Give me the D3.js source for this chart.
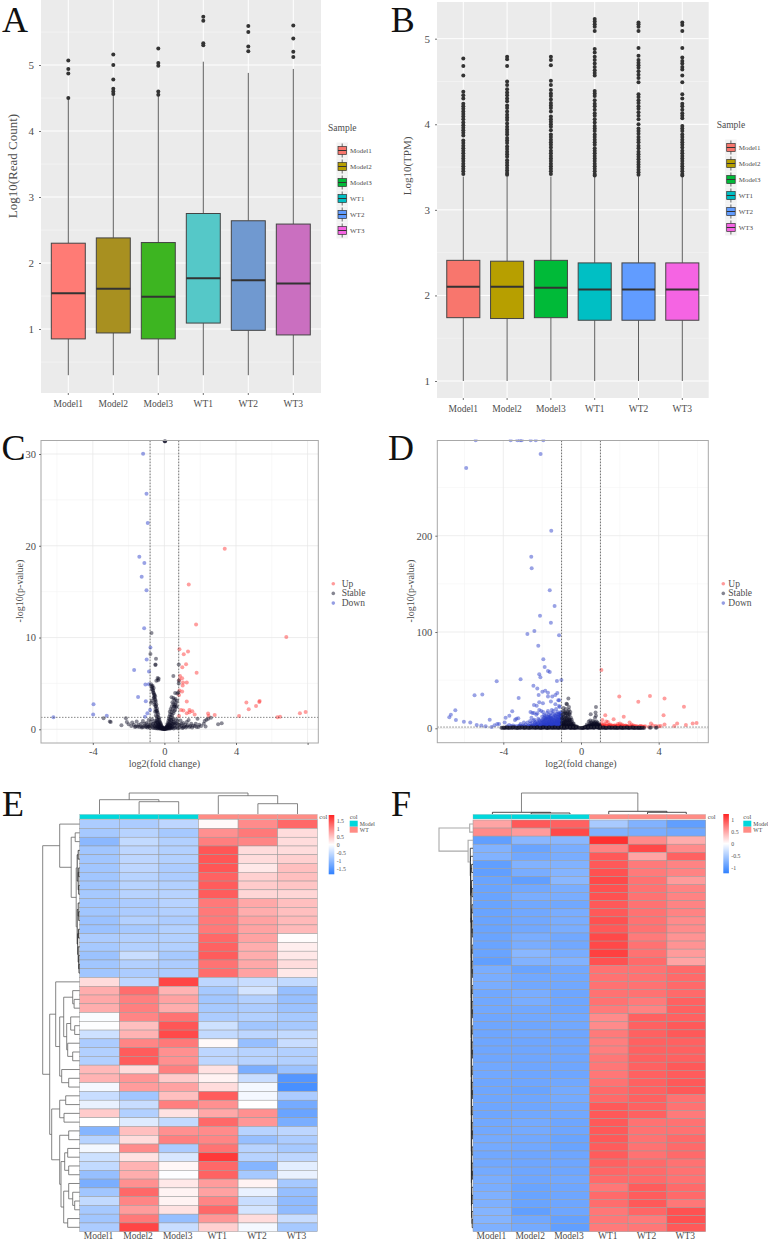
<!DOCTYPE html>
<html>
<head>
<meta charset="utf-8">
<script src="https://cdn.jsdelivr.net/npm/d3@7"></script>
<style>
body { margin: 0; background: #fff; }
svg { display: block; }
text { font-family: "Liberation Serif", serif; fill: #4d4d4d; }
.letter { fill: #111; font-size: 36px; }
</style>
</head>
<body>
<svg id="fig" width="768" height="1240"></svg>
<script>
const samples = ["Model1", "Model2", "Model3", "WT1", "WT2", "WT3"];
const legendColors = ["#F8766D", "#B79F00", "#00BA38", "#00BFC4", "#619CFF", "#F564E3"];
const fadedColors = ["#FF7B75", "#A89020", "#3DB521", "#55C8C8", "#7099D0", "#CA6FC0"];

// A - read count boxes
const aQ1 = [0.85, 0.94, 0.85, 1.09, 0.98, 0.91];
const aMedian = [1.54, 1.61, 1.49, 1.77, 1.74, 1.69];
const aQ3 = [2.30, 2.38, 2.31, 2.75, 2.64, 2.59];
const aLow = [0.30, 0.30, 0.30, 0.30, 0.30, 0.30];
const aHigh = [4.50, 4.55, 4.54, 5.05, 4.88, 4.94];
const aOutliers = [
	[5.07, 4.94, 4.87, 4.50],
	[5.16, 5.0, 4.78, 4.64, 4.6, 4.56],
	[5.25, 5.03, 4.99, 4.6, 4.55],
	[5.73, 5.67, 5.33, 5.30],
	[5.59, 5.5, 5.28, 5.21],
	[5.6, 5.4, 5.2, 5.12]
];

// B - TPM boxes
const bQ1 = [1.74, 1.73, 1.74, 1.71, 1.71, 1.71];
const bMedian = [2.10, 2.10, 2.09, 2.07, 2.07, 2.07];
const bQ3 = [2.41, 2.40, 2.41, 2.38, 2.38, 2.38];
const bLow = [1, 1, 1, 1, 1, 1];
const bHigh = [3.39, 3.39, 3.39, 3.39, 3.39, 3.39];
const bOutliers = [
	[4.77,4.68,4.57,4.38,4.34,4.30,4.24,4.21,4.18,4.15,4.12,4.09,4.06,4.02,3.99,3.96,3.93,3.90,3.87,3.81,3.78,3.75,3.72,3.69,3.66,3.63,3.60,3.57,3.54,3.51,3.48,3.45,3.42],
	[4.79,4.76,4.68,4.5,4.46,4.41,4.37,4.34,4.30,4.27,4.22,4.19,4.15,4.11,4.08,4.05,4.01,3.97,3.94,3.91,3.88,3.84,3.81,3.78,3.74,3.71,3.68,3.65,3.62,3.58,3.55,3.52,3.49,3.46,3.43,3.41],
	[4.79,4.75,4.69,4.51,4.46,4.40,4.36,4.33,4.29,4.25,4.22,4.19,4.15,4.09,4.06,4.03,4.0,3.97,3.93,3.88,3.85,3.82,3.79,3.76,3.73,3.69,3.66,3.63,3.6,3.57,3.54,3.51,3.48,3.45,3.42],
	[5.23,5.2,5.17,5.14,5.09,4.88,4.84,4.79,4.75,4.71,4.67,4.63,4.6,4.57,4.39,4.36,4.33,4.28,4.24,4.21,4.17,4.13,4.1,4.06,4.02,3.98,3.95,3.92,3.88,3.85,3.82,3.79,3.76,3.72,3.69,3.66,3.63,3.6,3.57,3.54,3.51,3.48,3.45,3.42,3.4],
	[5.19,5.17,5.14,5.09,4.89,4.8,4.75,4.72,4.69,4.66,4.62,4.58,4.54,4.49,4.35,4.32,4.28,4.25,4.21,4.18,4.14,4.1,4.06,4.0,3.95,3.92,3.89,3.85,3.82,3.79,3.75,3.72,3.68,3.65,3.62,3.59,3.56,3.53,3.5,3.47,3.44,3.41],
	[5.19,5.16,5.09,4.89,4.78,4.74,4.71,4.67,4.64,4.57,4.49,4.35,4.3,4.24,4.21,4.17,4.13,4.1,4.07,3.98,3.95,3.92,3.88,3.85,3.82,3.79,3.76,3.73,3.69,3.66,3.63,3.6,3.57,3.54,3.51,3.48,3.45,3.42,3.4]
];

// C - volcano points [log2fc, -log10p]
const cUp = [[3.37,19.67],[1.36,15.78],[1.77,11.42],[6.81,10.07],[.84,8.73],[1.32,8.47],[1.08,8.18],[1.21,7.09],[1.0,6.76],[1.8,6.15],[.87,5.82],[.99,5.56],[.84,5.38],[1.25,5.09],[1.04,5.09],[1.02,4.76],[.84,4.22],[.99,4.11],[.82,3.75],[1.25,3.02],[5.32,3.09],[5.3,2.98],[4.58,2.91],[5.12,2.55],[4.71,2.18],[.93,2.11],[1.06,2.04],[1.4,2.11],[1.56,1.96],[1.25,1.75],[1.4,1.85],[1.69,1.6],[2.44,1.71],[2.47,1.45],[2.81,1.56],[4.17,1.45],[7.57,1.75],[7.89,1.89],[6.31,1.31],[6.46,1.38],[.82,1.45]];
const cDown = [[-1.19,30.04],[-1.0,25.67],[-.93,22.47],[-1.40,18.8],[-1.12,18.11],[-1.27,16.62],[-1.0,15.16],[-1.13,11.02],[-.78,8.91],[-.99,7.6],[-.86,6.29],[-1.69,6.47],[-1.06,4.87],[-.87,4.91],[-1.47,3.53],[-1.04,3.05],[-.95,1.75],[-1.08,1.38],[-.8,2.1],[-3.96,2.73],[-3.98,1.6],[-3.22,1.49],[-6.2,1.31]];
const cStable = [[.03,31.4],[.03,31.4],[.03,31.4],[-.72,10.5],[-.78,8.2],[-.47,7.7],[-.5,7.05],[-.5,7.0],[-.38,5.6],[-.32,5.5],[-.45,5.3],[-.35,5.35],
	[-.75,4.9],[-.72,4.7],[-.68,4.6],[-.7,4.4],[-.65,4.3],[-.6,4.5],[-.62,4.0],[-.58,3.8],[-.55,3.75],[-.6,3.4],[-.52,3.6],[-.5,3.2],[-.55,2.95],[-.48,3.0],[-.7,3.1],[-.75,2.9],[-.45,2.7],[-.47,2.5],[-.5,2.2],[-.42,2.3],[-.4,2.0],[-.45,1.9],[-.38,1.8],[-.35,1.6],[-.4,1.4],[-.33,1.3],[-.3,1.2],[-.37,1.05],[-.28,1.0],[-.3,.85],[-.25,.8],[-.22,.7],[-.27,.6],[-.2,.55],[-.18,.45],[-.22,.38],[-.15,.3],[-.12,.22],[-.17,.18],[-.1,.12],[-.06,.08],[-.03,.04],[0,.02],
	[.5,5.8],[.8,7.05],[.8,5.3],[.8,5.0],[.78,4.0],[.72,3.9],[.6,3.95],[.4,3.5],[.5,3.4],[.55,3.2],[.65,2.9],[.7,3.1],[.45,2.95],[.5,2.75],[.6,2.7],[.42,2.5],[.55,2.45],[.65,2.4],[.35,2.2],[.45,2.15],[.55,2.0],[.3,1.9],[.4,1.85],[.32,1.6],[.42,1.55],[.28,1.4],[.35,1.3],[.25,1.15],[.3,1.05],[.4,1.0],[.22,.9],[.28,.8],[.35,.7],[.18,.65],[.24,.55],[.15,.45],[.2,.35],[.12,.28],[.16,.2],[.08,.14],[.05,.07],[.02,.03],
	[-3.4,1.2],[-3.0,.8],[-3.05,.85],[-2.4,.45],[-2.15,1.2],[-2.1,.8],[-2.0,.55],[-1.85,.35],[-1.8,.75],[-1.65,.25],[-1.55,.85],[-1.5,.3],[-1.4,.25],[-1.3,.6],[-1.25,.2],[-1.2,.9],[-1.1,.4],[-1.05,.25],[-1.0,.7],[-.95,.2],[-.9,.55],[-.88,1.0],[-.85,.3],[-.8,.15],[-.75,.8],[-.72,.35],[-.7,1.1],[-.65,.2],[-.62,.6],[-.6,.15],[-.55,.9],[-.52,.3],[-.5,.12],[-.48,.55],[-.45,.18],[-.42,.75],[-.4,.1],[-.38,.35],[-.35,.15],[-.33,.5],[-.3,.08],[-.27,.25],[-.25,.1],[-.22,.15],[-.18,.06],[-.14,.1],[-.1,.04],
	[.1,.05],[.14,.1],[.18,.07],[.22,.16],[.26,.1],[.3,.22],[.33,.08],[.36,.4],[.4,.14],[.43,.6],[.46,.2],[.5,.85],[.52,.1],[.55,.35],[.6,.18],[.63,.65],[.66,1.1],[.7,.25],[.72,.9],[.75,.12],[.78,.5],[.85,.2],[.9,.95],[.95,.35],[1.0,.15],[1.05,.7],[1.1,.3],[1.2,.2],[1.25,.8],[1.3,.45],[1.35,1.0],[1.4,.25],[1.5,.6],[1.55,.2],[1.7,.35],[1.8,.25],[1.85,1.15],[1.95,.5],[2.05,.35],[2.2,.6],[2.25,.9],[2.3,.3],[2.35,1.05],[2.45,1.15],[2.6,1.25],[3.0,.55],[3.2,.65]];
const cStableDense = [[-.66,4.75],[-.63,4.2],[-.6,3.95],[-.57,3.5],[-.53,3.3],[-.56,2.7],[-.5,2.55],[-.52,1.9],[-.44,2.05],[-.48,1.5],[-.42,1.15],[-.44,.9],[-.38,.75],[-.35,.55],[-.3,.45],[-.3,.25],[-.25,.4],[-.2,.25],[-.2,.12],[-.15,.15],[-.12,.08],[-.08,.15],[-.05,.1],[0,.08],[.04,.12],[.08,.08],[.1,.2],[.14,.25],[.18,.15],[.2,.5],[.24,.3],[.28,.18],[.28,.55],[.33,.4],[.35,.2],[.38,.95],[.4,.55],[.44,.3],[.44,1.3],[.48,.6],[.5,1.75],[.5,1.1],[.55,2.5],[.55,.75],[.6,2.1],[.6,.5],[.62,3.3],[.68,2.5],[.7,.65],[-.8,.45],[-.9,.3],[-1.0,.3],[-1.1,.6],[-1.2,.25],[-1.3,.3],[-1.45,.5],[-1.6,.3],[-1.7,.5],[.85,.5],[.95,.6],[1.05,.2],[1.15,.5],[1.25,.3],[1.45,.35],[1.6,.4],[1.75,.6],[1.9,.25],[-.65,.55],[-.55,.35],[-.5,.75],[-.43,.4],[-.36,.25]];

// D - volcano points
const dUp = [[1.05,60.5],[1.97,33],[3.55,33.5],[4.3,31],[2.95,27.5],[5.3,22.5],[4.25,13.5],[1.25,13.5],[2.2,12],[1.68,9.5],[1.1,8.5],[1.3,7],[1.38,6.5],[1.5,4],[1.9,4.5],[2.0,5],[2.1,4],[2.5,6],[2.6,4],[2.3,3],[2.7,3],[2.85,2.5],[3.1,2],[3.3,2],[3.6,5],[3.7,3],[3.85,2.5],[4.0,2],[4.1,2.5],[4.3,4],[4.8,2.5],[4.95,5],[5.4,3.5],[5.75,5],[5.95,5.5],[1.05,5],[1.12,3],[1.2,4.5],[1.25,2.5],[1.32,3],[1.4,2],[1.45,3.5],[1.55,2.2],[1.6,3],[1.7,2.2],[1.78,2.5],[1.85,2],[2.15,2.2],[2.25,2],[2.4,2.5],[2.55,2],[2.75,2],[1.02,2],[1.08,1.8],[1.15,1.8],[1.22,1.6],[1.3,1.6],[1.38,1.5],[1.48,1.5],[1.58,1.5],[1.68,1.5],[1.8,1.5],[1.95,1.5],[2.05,1.5],[2.2,1.5],[2.35,1.5],[2.5,1.5],[2.65,1.5],[2.9,1.5],[3.2,1.5],[3.5,1.5],
	[1.04,3.5],[1.07,2.6],[1.1,2.2],[1.14,2.6],[1.18,2.2],[1.22,3.5],[1.27,2.1],[1.35,2.4],[1.42,2.8],[1.5,2.4],[1.5,1.8],[1.62,2],[1.65,2.6],[1.72,1.8],[1.75,3.2],[1.82,1.8],[1.88,2.6],[1.92,2],[1.98,2.8],[2.02,2],[2.08,2.6],[2.12,1.8],[2.18,3],[2.28,2.4],[2.32,1.8],[2.38,2],[2.45,1.8],[2.6,2.4],[2.68,1.8],[2.8,1.8],[3.0,1.8],[3.05,2.4],[3.15,1.8],[3.25,1.6]];
const dDown = [[-5.42,299],[-3.62,299],[-3.28,299],[-3.14,299],[-3.05,299],[-2.59,299],[-2.33,299],[-1.94,299],[-2.08,284.8],[-5.91,270.2],[-1.53,205.2],[-2.56,178.2],[-2.54,166.1],[-1.61,143.3],[-1.36,127],[-2.11,117],[-1.55,109.7],[-2.4,101],[-2.76,97.9],[-1.13,96.5],[-2.2,85.8],[-1.94,71.6],[-1.87,63.7],[-1.7,59.5],[-1.61,58.5],[-2.15,56],[-2.09,53],[-3.11,50.9],[-4.34,48.8],[-1.24,49.1],[-1.01,50.2],[-2.45,44.3],[-2.25,41.2],[-5.48,34.3],[-5.08,35],[-3.21,31.5],[-1.99,38],[-1.84,39],[-1.7,37],[-2.18,34.6],[-1.7,32.9],[-1.48,32.9],[-1.32,34.6],[-1.22,36.7],[-1.17,29],[-1.12,29],[-2.15,27],[-1.96,26],[-1.55,27.7],[-1.32,24.9],[-2.42,24.2],[-2.28,23.5],[-1.13,23.2],
	[-6.47,18.7],[-6.7,14.2],[-6.78,11.4],[-6.44,8.7],[-6.03,6.9],[-5.7,5.9],[-5.37,3.5],[-5.13,2.8],[-4.91,2.1],[-4.7,9],[-4.6,1.4],[-4.45,3.1],[-4.31,4.5],[-4.22,4.5],[-3.93,5.9],[-3.88,11],[-3.69,13.1],[-3.54,17.6],[-3.4,8.7],[-3.33,10],[-3.23,10.4],[-3.11,4.5],[-2.94,5.9],
	[-2.6,17],[-2.5,16],[-2.42,16],[-2.3,14],[-2.25,15.5],[-2.15,19],[-2.05,18],[-1.95,17],[-1.9,14],[-1.85,13],[-1.75,16],[-1.7,18],[-1.65,14],[-1.6,12],[-1.55,16],[-1.5,19],[-1.42,18],[-1.35,14],[-1.28,20],[-1.22,17],[-1.15,15],[-1.1,22],[-1.06,13],[-1.03,17],
	[-2.55,11],[-2.4,9],[-2.35,6],[-2.2,10],[-2.12,7],[-2.0,12],[-1.95,8],[-1.88,6],[-1.8,10],[-1.72,7],[-1.68,5],[-1.6,9],[-1.55,6.5],[-1.5,11],[-1.45,5],[-1.4,8.5],[-1.35,6],[-1.3,10.5],[-1.25,7],[-1.2,5],[-1.15,9],[-1.12,6],[-1.08,11],[-1.04,7.5],[-1.02,4],
	[-2.85,4],[-2.7,3],[-2.6,5],[-2.5,3],[-2.4,4],[-2.3,2.5],[-2.2,3.5],[-2.12,2.2],[-2.05,4.5],[-1.98,2.6],[-1.9,3.6],[-1.82,2.3],[-1.75,3],[-1.7,2],[-1.62,3.5],[-1.56,2.2],[-1.5,3],[-1.44,2],[-1.38,3.5],[-1.32,2.2],[-1.26,3.2],[-1.2,2],[-1.14,3.5],[-1.1,2.2],[-1.05,3],[-1.02,2],
	[-3.8,2],[-3.6,2.5],[-3.4,2],[-3.2,2.5],[-3.05,2],[-2.9,2],[-2.78,2],[-2.64,1.8],[-2.55,2],[-2.45,1.8],[-2.35,1.7],[-2.25,1.7],[-2.18,1.6],[-2.02,1.6],[-1.95,1.6],[-1.86,1.6],[-1.78,1.6],[-1.66,1.6],[-1.58,1.6],[-1.48,1.6],[-1.4,1.6],[-1.3,1.6],[-1.22,1.6],[-1.16,1.6],[-1.08,1.6],[-1.02,1.6]];
const dDownMass = [[-1.9,11],[-1.85,9],[-1.78,12],[-1.75,8.5],[-1.7,10],[-1.66,11.5],[-1.63,7.5],[-1.58,10.5],[-1.52,8],[-1.48,6],[-1.46,9.5],[-1.42,12],[-1.38,7],[-1.33,9],[-1.28,12.5],[-1.27,8],[-1.22,10],[-1.18,7],[-1.17,12],[-1.14,10.5],[-1.11,8],[-1.08,13.5],[-1.05,9.5],[-1.03,12],[-1.02,6],
	[-1.92,5],[-1.85,4.5],[-1.8,6],[-1.76,5],[-1.7,4],[-1.65,6],[-1.6,4.5],[-1.55,5],[-1.52,4],[-1.47,6.5],[-1.42,4.5],[-1.38,5],[-1.33,4],[-1.3,6],[-1.27,4.5],[-1.22,6.5],[-1.18,4],[-1.15,5.5],[-1.12,4],[-1.08,6],[-1.05,4.5],[-1.03,5.5],
	[-1.95,2.2],[-1.88,3],[-1.8,2.6],[-1.72,3.8],[-1.65,2.6],[-1.6,3],[-1.53,2.5],[-1.47,3.5],[-1.4,2.5],[-1.35,3],[-1.28,2.6],[-1.23,3.8],[-1.17,2.5],[-1.12,3],[-1.07,2.6],[-1.03,3.5],[-1.9,2],[-1.77,1.9],[-1.63,2],[-1.45,2],[-1.35,1.9],[-1.25,2],[-1.13,1.9],[-1.04,1.8],
	[-2.75,6],[-2.62,7.5],[-2.52,5.5],[-2.45,8],[-2.38,5],[-2.28,7],[-2.22,5.5],[-2.15,8.5],[-2.08,6],[-2.02,8],[-2.7,2],[-2.6,2.4],[-2.48,2.2],[-2.38,2.6],[-2.28,2],[-2.16,2.8],[-2.08,1.9],[-3.0,3],[-2.95,2.2],[-3.15,3],[-3.3,2.2],[-3.5,3],[-3.7,3.5],
	[-1.96,9.5],[-1.9,7],[-1.83,10.5],[-1.8,8],[-1.73,5.5],[-1.7,12],[-1.64,9],[-1.6,6],[-1.56,13],[-1.54,10],[-1.49,7.5],[-1.44,15],[-1.4,11],[-1.36,8],[-1.32,13],[-1.28,5.5],[-1.25,15],[-1.24,9],[-1.2,12],[-1.16,8.5],[-1.13,14],[-1.1,7],[-1.07,16],[-1.06,9],[-1.04,15],[-1.02,10],[-1.01,13],
	[-1.86,2.4],[-1.78,3.4],[-1.74,2.4],[-1.68,3.2],[-1.62,2.4],[-1.58,4],[-1.5,2.2],[-1.45,3],[-1.42,2.2],[-1.36,4],[-1.3,2.4],[-1.26,4.2],[-1.2,3],[-1.15,2.4],[-1.1,4],[-1.06,2.2],[-1.04,4.5],[-1.02,3],[-2.3,4],[-2.2,5],[-2.1,3.4],[-2.02,5.5],[-2.0,3.2],[-1.96,6.5],[-1.92,4]];
const dStable = [[-.65,31],[-.72,25],[-.75,25.5],[.77,22],[.75,16.5],[.5,14.5],[.77,13],[.72,11],[.48,8],[.62,7.5],[.4,7],[.52,6],
	[-.9,21],[-.85,17],[-.78,20],[-.7,16],[-.62,19],[-.58,14],[-.55,17],[-.95,14],[-.88,12],[-.8,13],[-.75,11],[-.68,12],[-.6,10],[-.52,11],[-.48,9],[-.98,10],[-.92,8],[-.85,9],[-.8,7],[-.72,8],[-.66,6],[-.6,7],[-.54,6],[-.47,7],[-.42,5],[-.38,5],[-.98,6],[-.92,5],[-.86,4.5],[-.78,5],[-.7,4],[-.62,4],[-.54,3.5],[-.46,3.5],[-.38,3],[-.32,2.5],[-.26,2],[-.2,1.5],[-.96,3],[-.88,3],[-.8,3],[-.72,2.5],[-.64,2.5],[-.56,2.2],[-.48,2],[-.4,1.8],[-.34,1.5],[-.28,1.2],[-.22,1],[-.16,.8],[-.1,.5],[-.05,.3],[0,.2],
	[.05,.3],[.1,.5],[.15,.8],[.2,1.2],[.25,1.6],[.3,2],[.35,2.5],[.4,3],[.45,3.2],[.5,3.4],[.55,3],[.6,3.5],[.65,3],[.7,3.4],[.75,3],[.8,3.5],[.85,3],[.92,3.2],[.97,3],[.28,1],[.34,1.4],[.4,1.6],[.46,1.8],[.52,2],[.58,2],[.64,2],[.7,2],[.76,2],[.82,2],[.88,2],[.94,2],[.3,4],[.45,5],[.55,5],[.62,4.5],[.7,5],[.8,5],[.85,4.5],[.92,4],
	[-4.1,.6],[-4.0,.9],[-3.9,.5],[-3.8,.8],[-3.7,.4],[-3.6,.9],[-3.5,.5],[-3.4,.8],[-3.3,.4],[-3.2,.9],[-3.1,.5],[-3.0,.8],[-2.9,.4],[-2.8,.9],[-2.7,.5],[-2.6,.8],[-2.5,.4],[-2.4,.9],[-2.3,.5],[-2.2,.8],[-2.1,.4],[-2.0,.9],[-1.9,.5],[-1.8,.8],[-1.7,.4],[-1.6,.9],[-1.5,.5],[-1.4,.8],[-1.3,.4],[-1.2,.9],[-1.1,.5],[-1.0,.8],[-.9,.4],[-.8,.9],[-.7,.5],[-.6,.8],[-.5,.4],[-.4,.7],[-.3,.4],[-.2,.4],
	[-3.95,.2],[-3.85,1.1],[-3.72,.9],[-3.55,.2],[-3.45,1.1],[-3.25,.2],[-3.15,1.1],[-2.95,.2],[-2.85,1.1],[-2.65,.2],[-2.55,1.1],[-2.35,.2],[-2.25,1.1],[-2.05,.2],[-1.95,1.1],[-1.75,.2],[-1.65,1.1],[-1.45,.2],[-1.35,1.1],[-1.15,.2],[-1.05,1.1],[-.85,.2],[-.75,1.1],[-.55,.2],[-.45,1.1],[-.35,.2],
	[.3,.4],[.4,.7],[.5,.4],[.6,.8],[.7,.5],[.8,.9],[.9,.4],[1.0,.8],[1.1,.5],[1.2,.9],[1.3,.4],[1.4,.8],[1.5,.5],[1.6,.9],[1.7,.4],[1.8,.8],[1.9,.5],[2.0,.9],[2.1,.4],[2.2,.8],[2.3,.5],[2.4,.9],[2.5,.4],[2.6,.8],[2.7,.5],[2.8,.7],[2.9,.4],[3.0,.7],[3.1,.5],[3.2,.6],[3.25,.3],[3.55,.5],[3.6,.8],[3.85,.5],[3.9,.8],
	[.35,.2],[.55,1.1],[.65,.2],[.85,1.1],[.95,.2],[1.15,1.1],[1.25,.2],[1.45,1.1],[1.55,.2],[1.75,1.1],[1.85,.2],[2.05,1.1],[2.15,.2],[2.35,1.1],[2.45,.2],[2.65,1.1],[2.75,.2],[2.95,.9],[3.05,.2]];
const dStableDense = [[-4.05,.3],[-3.92,.7],[-3.78,.3],[-3.65,.6],[-3.52,1],[-3.38,.3],[-3.27,.7],[-3.12,.3],[-3.02,1],[-2.88,.7],[-2.75,.3],[-2.62,.5],[-2.48,.8],[-2.38,.6],[-2.28,.9],[-2.18,.3],[-2.08,.7],[-1.98,.5],[-1.88,.9],[-1.78,.4],[-1.68,.7],[-1.58,.3],[-1.48,.8],[-1.38,.5],[-1.28,.7],[-1.18,.3],[-1.08,.9],[-.98,.4],[-.88,.7],[-.78,.4],[-.68,.8],[-.58,.5],[-.48,.7],[-.38,.5],[-.28,.6],
	[-.98,1.2],[-.92,2],[-.9,2.8],[-.84,3.6],[-.82,2],[-.76,3],[-.74,1.6],[-.68,2],[-.66,3],[-.6,1.6],[-.58,3],[-.52,1.6],[-.5,2.6],[-.44,1.4],[-.42,2.4],[-.36,1.2],[-.94,4],[-.9,6],[-.84,6.5],[-.82,8],[-.76,6],[-.7,6.5],[-.64,8],[-.58,5],[-.56,8.5],[-.5,5],[-.5,4],[-.94,11],[-.88,15],[-.82,10.5],[-.76,15],[-.72,10],[-.66,13.5],[-.62,9],[-.6,15],[-.9,18],[-.8,16],[-.68,17.5],[-.62,22],
	[.08,.4],[.12,.7],[.18,.6],[.22,.9],[.26,1.3],[.32,1],[.36,1.8],[.42,2.2],[.48,2.5],[.54,2.4],[.56,4],[.6,2.4],[.66,2.6],[.68,4.2],[.72,2.4],[.78,2.6],[.82,4],[.86,2.4],[.9,2.8],[.96,2.2],[.36,.8],[.44,1],[.5,1.2],[.56,1],[.62,1.2],[.68,1],[.74,1.4],[.8,1.2],[.86,1.4],[.92,1.2],[.98,1.4],[.66,6],[.72,6.5],[.8,7],[.86,5.8],
	[.95,.6],[1.05,.3],[1.15,.7],[1.25,.6],[1.35,.3],[1.45,.6],[1.55,.8],[1.65,.6],[1.75,.3],[1.85,.6],[1.95,.3],[2.05,.6],[2.15,.7],[2.25,.4],[2.35,.6],[2.45,.7],[2.55,.6],[2.65,.4],[2.75,.7],[2.85,.5],[2.95,.4],[3.05,.6],[3.15,.4]];

// E - z-scores, one row per gene
const heatE = [
	[-.75,-.75,-.6,.05,1.0,1.3],[-.8,-.65,-.8,.95,1.15,.3],[-1.05,-.55,-.7,1.1,1.05,.3],[-.85,-.6,-.7,1.45,.3,.3],[-.85,-.6,-.7,1.45,.3,.4],[-.85,-.6,-.75,1.45,.2,.55],[-.85,-.65,-.75,1.35,.4,.55],[-.85,-.65,-.7,1.4,.45,.5],[-.8,-.65,-.65,1.4,.35,.35],
	[-.85,-.75,-.65,1.15,.75,.55],[-.85,-.75,-.7,1.15,.7,.55],[-.9,-.7,-.75,1.15,.8,.6],[-.9,-.8,-.7,1.15,.8,.6],[-.75,-.7,-.7,1.3,.8,.03],[-.8,-.7,-.7,1.35,.7,.15],[-.9,-.5,-.8,1.4,.7,.2],[-.85,-.7,-.75,1.2,.75,.3],[-.85,-.75,-.75,1.25,.8,.2],
	[.3,-.6,1.6,-.6,-.5,-.55],[.7,1.25,.65,-.8,-.4,-.95],[.75,1.1,.8,-.85,-.7,-.95],[.7,1.1,.7,-.8,-.75,-.9],[-.05,1.05,1.2,-.75,-.7,-.8],[-.02,.55,1.45,-.45,-.85,-.8],[-.45,.65,1.55,-.55,-.6,-.55],[-.75,1.05,1.15,.05,-.95,-.5],[-.7,1.4,.95,-.6,-.65,-.7],[-.7,1.4,.95,-.6,-.65,-.7],[.6,.3,1.1,.25,-1.2,-.9],[.65,.9,.45,.1,-.5,-1.55],[-.1,.85,.8,.3,-.1,-1.65],
	[-.5,-.85,.55,1.4,-.1,-.75],[-.2,-.5,1.1,.95,0,-1.25],[.45,-.7,.25,.75,.95,-1.35],[0,-.3,-.55,1.3,.9,-1.2],[-1.1,.55,.95,1.0,-.65,-.6],[-.65,.3,1.1,1.05,-.95,-.75],[-.1,1.0,-.75,1.2,-.65,-.8],[-.45,.25,-.35,1.7,-.65,-.6],[-.55,.65,.07,1.3,-1.1,-.25],[-.95,.7,-.02,1.35,-.8,-.2],[-1.2,.95,.2,.85,.1,-.8],[-.85,1.3,.1,.8,-.2,-.95],[-.55,1.05,.1,1.05,-.5,-1.0],[-.8,.85,.25,1.3,-.4,-1.0],[-.85,1.15,-.95,.9,.3,-.5],[-.75,1.6,-.5,.4,-.1,-.8]
];
const heatELegend = [1.5, 1, 0.5, 0, -0.5, -1, -1.5];
const colTreeE = [21, [14.3, 0, [12.3, 1, 2]], [18.3, 3, [10.3, 4, 5]]];
const rowTreeE = [37,
	[20, 0, [8.5, [4.5, 1, 2], [3.5, [2.5, [1.5, 3, 4], [1.5, [1, 5, 6], [1, 7, 8]]], [2.5, [1.5, 9, [1, 10, 11]], [2, [1.2, 12, 13], [1.5, 14, [1, 15, [.7, 16, 17]]]]]]]],
	[30,
		[24, 18, [20, [16, [7, 19, [5.6, 20, 21]], [13, [9, 22, [5, 23, 24]], [12, 25, [7, 26, 27]]]], [18, 28, [11, 29, 30]]]],
		[28, [20, [14, 31, 32], [15.7, 33, 34]], [20, [11, 35, 36], [18.7, [15, [12, 37, 38], [11, 39, 40]], [16, [11, 41, [7, 42, [5, 43, 44]]], [12, 45, 46]]]]]
	]
];

// F
const heatF = [
	[.55,1,.95,-.55,-.8,-1.0],[.7,.6,1.1,-.8,-.85,-.9],[-1.0,-.75,-.75,1.25,.7,.5],[-.8,-.95,-.85,.75,1.1,.7],[-.8,-.9,-.85,1.0,.55,.95],[-1.0,-.8,-.8,1.0,.8,.75],[-1.0,-.85,-.78,1.05,.8,.75],[-.95,-1.0,-.75,1.1,.85,.6],[-.95,-.9,-.85,1.05,.85,.75],[-.95,-.85,-.85,1.05,.85,.75],
	[-.95,-.9,-.9,1.0,.85,.75],[-.95,-.9,-.85,1.0,.85,.75],[-.95,-.9,-.85,1.05,.85,.7],[-.95,-.9,-.85,1.0,.85,.7],[-.95,-.85,-.9,1.1,.8,.65],[-.95,-.85,-.9,1.1,.85,.65],[-.95,-.75,-.85,1.15,.85,.6],[-1.0,-.8,-.8,1.05,.9,.55],[-.85,-.95,-.9,.85,.85,.9],[-.85,-.9,-.9,.85,.85,.9],
	[-.85,-.9,-.9,.85,.85,.9],[-.9,-.85,-.92,.85,.85,.9],[-.9,-.85,-.92,.85,.8,.95],[-.9,-.9,-.92,.8,.75,.95],[-.92,-.9,-.9,.7,.95,.95],[-.92,-.92,-.9,.7,.95,1.0],[-.92,-.9,-.92,.8,.95,1.0],[-.92,-.92,-.92,.78,.95,.95],[-.92,-.92,-.92,.78,.95,.95],[-.92,-.92,-.92,.82,.95,.95],
	[-.9,-.92,-.92,.82,.95,1.0],[-.9,-.92,-.92,.82,.95,.98],[-.92,-.92,-.9,.85,.95,1.0],[-.92,-.95,-.88,.9,.95,1.0],[-.92,-.92,-.88,.9,.95,.85],[-.92,-.92,-.9,1.0,.95,.85],[-.92,-.9,-.9,1.0,.95,.8],[-.9,-.88,-.92,1.0,.85,.85],[-.9,-.88,-.92,1.0,.85,.85],[-.88,-.9,-.95,1.0,.85,.9],
	[-.88,-.9,-.95,.98,.85,.9],[-.9,-.92,-.92,.98,.85,.9],[-.9,-.92,-.92,.95,.9,.85],[-.88,-.92,-.92,.92,.9,.85],[-.85,-.92,-.9,.9,.9,.85],[-.85,-.95,-.92,.82,.98,.9],[-.82,-.95,-.92,.9,.98,.9],[-.82,-.95,-.92,.88,1.0,.82],[-.78,-1.0,-.92,.82,.92,1.05],[-.78,-.9,-.98,.82,.8,1.05],[-.82,-.88,-1.0,.8,.82,1.0]
];
const heatFLegend = [1, 0.5, 0, -0.5, -1];
const colTreeF = [21, [1.7, 0, [1, 1, 2]], [2.7, 3, [1.7, 4, 5]]];
const rowTreeF = [34, [3.3, 0, 1], [4.9, 2, [2.7, 3, [2.5, 4, [2.2, [1.4, 5, 6],
	[1.9, [1.5, 7, [1, 8, 9]],
	[1.85, [1.4, [1, 10, 11], [1.1, 12, [.7, 13, 14]]],
	[1.8, [1.3, [.9, 15, 16], [1, 17, [.6, 18, 19]]],
	[1.75, [1.3, [.9, 20, 21], [1, 22, [.6, 23, 24]]],
	[1.7, [1.3, [.9, 25, 26], [1, 27, [.6, 28, 29]]],
	[1.65, [1.3, [.9, 30, 31], [1, 32, [.6, 33, 34]]],
	[1.6, [1.3, [.9, 35, 36], [1, 37, [.6, 38, 39]]],
	[1.55, [1.3, [.9, 40, 41], [1, 42, [.6, 43, 44]]],
	[1.5, [1.2, 45, [.9, 46, 47]], [1.1, 48, [.8, 49, 50]]]]]]]]]]]]]]]];

const volcanoLegend = ["Up", "Stable", "Down"];
const volcanoColors = ["#ff3535", "#0c0c24", "#2a3cc8"];

const svg = d3.select("#fig");
const defs = svg.append("defs");
const heatColor = d3.scaleLinear().domain([-1, 0, 1]).range(["#2f80ff", "#ffffff", "#ff2424"]);
const annoColor = { Model: "#00d8dc", WT: "#ff8c85" };

function styleAxis(g, size) {
	g.select(".domain").remove();
	g.selectAll(".tick line").attr("stroke", "#333").attr("stroke-width", 0.7);
	g.selectAll(".tick text").style("font-family", '"Liberation Serif", serif').style("fill", "#4d4d4d").style("font-size", size + "px");
}

function boxPanel(o) {
	const g = svg.append("g");
	const x = d3.scaleBand().domain(samples).range(o.xr).paddingInner(o.pad).paddingOuter(o.pad / 2);
	const y = d3.scaleLinear().domain([1, 5]).range(o.yr);
	const cx = d => x(d) + x.bandwidth() / 2;

	g.append("rect").attr("x", o.px[0]).attr("y", o.py[0]).attr("width", o.px[1] - o.px[0]).attr("height", o.py[1] - o.py[0]).attr("fill", "#ebebeb");
	o.minor.forEach(v => g.append("line").attr("x1", o.px[0]).attr("x2", o.px[1]).attr("y1", y(v)).attr("y2", y(v)).attr("stroke", "#f6f6f6").attr("stroke-width", 0.6));
	[1, 2, 3, 4, 5].forEach(v => g.append("line").attr("x1", o.px[0]).attr("x2", o.px[1]).attr("y1", y(v)).attr("y2", y(v)).attr("stroke", "#fff").attr("stroke-width", 1));
	samples.forEach(s => g.append("line").attr("x1", cx(s)).attr("x2", cx(s)).attr("y1", o.py[0]).attr("y2", o.py[1]).attr("stroke", "#fff").attr("stroke-width", 1));

	samples.forEach((s, i) => {
		g.append("line").attr("x1", cx(s)).attr("x2", cx(s)).attr("y1", y(o.high[i])).attr("y2", y(o.q3[i])).attr("stroke", "#333").attr("stroke-width", 0.8);
		g.append("line").attr("x1", cx(s)).attr("x2", cx(s)).attr("y1", y(o.q1[i])).attr("y2", y(o.low[i])).attr("stroke", "#333").attr("stroke-width", 0.8);
		g.append("rect")
			.attr("x", x(s))
			.attr("y", y(o.q3[i]))
			.attr("width", x.bandwidth())
			.attr("height", y(o.q1[i]) - y(o.q3[i]))
			.attr("fill", o.fills[i])
			.attr("stroke", "#444")
			.attr("stroke-width", 1);
		g.append("line").attr("x1", x(s)).attr("x2", x(s) + x.bandwidth()).attr("y1", y(o.med[i])).attr("y2", y(o.med[i])).attr("stroke", "#333").attr("stroke-width", 2);
		g.selectAll(null).data(o.out[i]).enter().append("circle")
			.attr("cx", cx(s))
			.attr("cy", d => y(d))
			.attr("r", 2)
			.attr("fill", "#333");
	});

	const xG = g.append("g").attr("transform", "translate(0," + o.py[1] + ")").call(d3.axisBottom(x).tickSize(2).tickPadding(5));
	styleAxis(xG, 9.5);
	const yG = g.append("g").attr("transform", "translate(" + o.px[0] + ",0)").call(d3.axisLeft(y).tickValues([1, 2, 3, 4, 5]).tickFormat(d3.format("d")).tickSize(2).tickPadding(o.tickPad));
	styleAxis(yG, 11);

	g.append("text").attr("transform", "translate(" + o.ylabX + ",166) rotate(-90)").attr("text-anchor", "middle").style("font-size", o.ylabSize + "px").text(o.ylab);

	// legend
	g.append("text").attr("x", o.legX).attr("y", o.legY).style("font-size", "9.5px").text("Sample");
	samples.forEach((s, i) => {
		const ky = o.legY + 12.5 + i * 16;
		const kx = o.legX + 10;
		g.append("rect").attr("x", kx - 1.5).attr("y", ky - 1).attr("width", 11.5).attr("height", 16).attr("fill", "#f2f2f2");
		g.append("line").attr("x1", kx + 4.2).attr("x2", kx + 4.2).attr("y1", ky).attr("y2", ky + 14).attr("stroke", "#333").attr("stroke-width", 0.7);
		g.append("rect").attr("x", kx).attr("y", ky + 3).attr("width", 8.5).attr("height", 8).attr("fill", legendColors[i]).attr("stroke", "#333").attr("stroke-width", 0.7);
		g.append("line").attr("x1", kx).attr("x2", kx + 8.5).attr("y1", ky + 7).attr("y2", ky + 7).attr("stroke", "#333").attr("stroke-width", 1);
		g.append("text").attr("x", kx + 12).attr("y", ky + 9).style("font-size", "7px").text(s);
	});
}

boxPanel({
	px: [41, 321], py: [0, 393], xr: [45.8, 315.8], yr: [329, 65], pad: 0.245,
	q1: aQ1, med: aMedian, q3: aQ3, low: aLow, high: aHigh, out: aOutliers, fills: fadedColors,
	minor: [0.5, 1.5, 2.5, 3.5, 4.5, 5.5], tickPad: 5,
	ylab: "Log10(Read Count)", ylabX: 17, ylabSize: 13, legX: 328, legY: 131
});
boxPanel({
	px: [437, 708.7], py: [2, 398], xr: [441.4, 704.2], yr: [381, 38.7], pad: 0.245,
	q1: bQ1, med: bMedian, q3: bQ3, low: bLow, high: bHigh, out: bOutliers, fills: legendColors,
	minor: [1.5, 2.5, 3.5, 4.5], tickPad: 5,
	ylab: "Log10(TPM)", ylabX: 411, ylabSize: 11, legX: 716.7, legY: 128
});

let clipId = 0;
function volcano(o) {
	const g = svg.append("g");
	const x = d3.scaleLinear().domain([-4, 4]).range(o.xr);
	const y = d3.scaleLinear().domain(o.yd).range(o.yr);
	const id = "clip" + (clipId++);
	defs.append("clipPath").attr("id", id).append("rect").attr("x", o.px[0]).attr("y", o.py[0] - 1).attr("width", o.px[1] - o.px[0]).attr("height", o.py[1] - o.py[0] + 1);

	o.xMinor.forEach(v => g.append("line").attr("x1", x(v)).attr("x2", x(v)).attr("y1", o.py[0]).attr("y2", o.py[1]).attr("stroke", "#f3f3f3").attr("stroke-width", 0.6));
	o.yMinor.forEach(v => g.append("line").attr("x1", o.px[0]).attr("x2", o.px[1]).attr("y1", y(v)).attr("y2", y(v)).attr("stroke", "#f3f3f3").attr("stroke-width", 0.6));
	o.xMajor.forEach(v => g.append("line").attr("x1", x(v)).attr("x2", x(v)).attr("y1", o.py[0]).attr("y2", o.py[1]).attr("stroke", "#e8e8e8").attr("stroke-width", 0.8));
	o.yMajor.forEach(v => g.append("line").attr("x1", o.px[0]).attr("x2", o.px[1]).attr("y1", y(v)).attr("y2", y(v)).attr("stroke", "#e8e8e8").attr("stroke-width", 0.8));

	const pts = g.append("g").attr("clip-path", "url(#" + id + ")");
	[[o.down, 2], [o.up, 0], [o.stable, 1]].forEach(p => {
		pts.selectAll(null).data(p[0]).enter().append("circle")
			.attr("cx", d => x(d[0]))
			.attr("cy", d => y(d[1]))
			.attr("r", 2)
			.attr("fill", volcanoColors[p[1]])
			.attr("fill-opacity", 0.48);
	});

	o.fc.forEach(v => g.append("line").attr("x1", x(v)).attr("x2", x(v)).attr("y1", o.py[0]).attr("y2", o.py[1]).attr("stroke", "#333").attr("stroke-width", 0.7).attr("stroke-dasharray", "1.8,1.2"));
	g.append("line").attr("x1", o.px[0]).attr("x2", o.px[1]).attr("y1", y(1.3)).attr("y2", y(1.3)).attr("stroke", "#555").attr("stroke-width", 0.7).attr("stroke-dasharray", "1.5,1.5");
	g.append("rect").attr("x", o.px[0]).attr("y", o.py[0]).attr("width", o.px[1] - o.px[0]).attr("height", o.py[1] - o.py[0]).attr("fill", "none").attr("stroke", "#a8a8a8").attr("stroke-width", 1);

	const xG = g.append("g").attr("transform", "translate(0," + o.py[1] + ")")
		.call(d3.axisBottom(x).tickValues(o.xMajor).tickSize(2).tickPadding(3).tickFormat(d => d == 8 ? "" : d3.format("d")(d).replace("\u2212", "-")));
	styleAxis(xG, 10.5);
	const yG = g.append("g").attr("transform", "translate(" + o.px[0] + ",0)")
		.call(d3.axisLeft(y).tickValues(o.yMajor).tickSize(2).tickPadding(3).tickFormat(d3.format("d")));
	styleAxis(yG, 10.5);

	g.append("text").attr("x", o.labX).attr("y", 767).attr("text-anchor", "middle").style("font-size", "10px").text("log2(fold change)");
	g.append("text").attr("transform", "translate(" + o.ylabX + ",591) rotate(-90)").attr("text-anchor", "middle").style("font-size", "10px").text("-log10(p-value)");

	volcanoLegend.forEach((s, i) => {
		const ly = 583.7 + i * 9.7;
		g.append("circle").attr("cx", o.legX).attr("cy", ly).attr("r", 1.8).attr("fill", volcanoColors[i]).attr("fill-opacity", 0.5);
		g.append("text").attr("x", o.legX + o.legGap).attr("y", ly + 3).style("font-size", "9.5px").text(s);
	});
}

volcano({
	px: [41, 318.3], py: [440.5, 743], xr: [92.8, 236], yd: [0, 30], yr: [729.3, 454],
	up: cUp, down: cDown, stable: cStable.concat(cStableDense), fc: [-0.8, 0.8],
	xMajor: [-4, 0, 4, 8], xMinor: [-6, -2, 2, 6], yMajor: [0, 10, 20, 30], yMinor: [5, 15, 25],
	labX: 164.5, ylabX: 23, legX: 333.3, legGap: 8.4
});
volcano({
	px: [437.3, 708.3], py: [440.5, 742.7], xr: [503.3, 658.7], yd: [0, 200], yr: [728.3, 535.7],
	up: dUp, down: dDown.concat(dDownMass), stable: dStable.concat(dStableDense), fc: [-1, 1],
	xMajor: [-4, 0, 4], xMinor: [-6, -2, 2, 6], yMajor: [0, 100, 200], yMinor: [50, 150, 250],
	labX: 581, ylabX: 414, legX: 723.3, legGap: 5
});

// nested [height, left, right], leaves are row or column indexes
function drawTree(g, node, pos, base, orient, lightFrom) {
	if (typeof node === "number") return { p: pos(node), h: 0 };
	const a = drawTree(g, node[1], pos, base, orient, lightFrom);
	const b = drawTree(g, node[2], pos, base, orient, lightFrom);
	const h = node[0];
	const d = orient == "row"
		? "M" + (base - a.h) + "," + a.p + "H" + (base - h) + "V" + b.p + "H" + (base - b.h)
		: "M" + a.p + "," + (base - a.h) + "V" + (base - h) + "H" + b.p + "V" + (base - b.h);
	const light = h >= lightFrom;
	g.append("path").attr("d", d).attr("fill", "none")
		.attr("stroke", light ? "#aaa" : (h < 3 ? "#222" : "#666"))
		.attr("stroke-width", light ? 1.1 : 0.8);
	return { p: (a.p + b.p) / 2, h: h };
}

function heatmap(o) {
	const g = svg.append("g");
	const x = d3.scaleBand().domain(samples).range(o.xr);
	const y = d3.scaleBand().domain(d3.range(o.rows.length)).range([o.top, 1231.7]);
	const color = v => heatColor(v / o.limit);

	o.rows.forEach((row, i) => {
		g.selectAll(null).data(row).enter().append("rect")
			.attr("x", (d, j) => x(samples[j]))
			.attr("y", y(i))
			.attr("width", x.bandwidth())
			.attr("height", y.bandwidth())
			.attr("fill", d => color(d))
			.attr("stroke", "#999")
			.attr("stroke-width", 0.5);
	});

	samples.forEach(s => {
		g.append("rect")
			.attr("x", x(s)).attr("y", 814.4).attr("width", x.bandwidth()).attr("height", 4.6)
			.attr("fill", s.startsWith("WT") ? annoColor.WT : annoColor.Model)
			.attr("stroke", "#aaa").attr("stroke-width", 0.3);
		g.append("text").attr("x", x(s) + x.bandwidth() / 2 - 1).attr("y", 1239).attr("text-anchor", "middle").style("font-size", "9.5px").text(s);
	});
	g.append("text").attr("x", o.xr[1] + 2).attr("y", 819).style("font-size", "6.5px").text("col");

	drawTree(g, o.colTree, i => x(samples[i]) + x.bandwidth() / 2, 814, "col", 99);
	drawTree(g, o.rowTree, i => y(i) + y.bandwidth() / 2, o.xr[0], "row", o.lightFrom);

	// colour bar
	const grad = defs.append("linearGradient").attr("id", o.id).attr("x1", 0).attr("x2", 0).attr("y1", 0).attr("y2", 1);
	[[0, 1], [0.5, 0], [1, -1]].forEach(s => grad.append("stop").attr("offset", s[0]).attr("stop-color", heatColor(s[1])));
	const ly = d3.scaleLinear().domain([0, 1]).range([o.legZero, o.legZero - o.legendPx]);
	g.append("rect").attr("x", o.barX).attr("y", o.barY[0]).attr("width", 5.6).attr("height", o.barY[1] - o.barY[0]).attr("fill", "url(#" + o.id + ")");
	o.legend.forEach(v => {
		g.append("text").attr("x", o.barX + 8).attr("y", ly(v) + 2).style("font-size", "5.8px").text(String(v));
	});

	g.append("text").attr("x", o.annoX).attr("y", 819).style("font-size", "6.5px").text("col");
	g.append("rect").attr("x", o.annoX).attr("y", 820.7).attr("width", 8).attr("height", 6).attr("fill", annoColor.Model);
	g.append("rect").attr("x", o.annoX).attr("y", 826.7).attr("width", 8).attr("height", 6).attr("fill", annoColor.WT);
	g.append("text").attr("x", o.annoX + 10).attr("y", 825.8).style("font-size", "5.8px").text("Model");
	g.append("text").attr("x", o.annoX + 10).attr("y", 831.8).style("font-size", "5.8px").text("WT");
}

heatmap({
	id: "barE", rows: heatE, xr: [79.7, 317.3], top: 819.7, limit: 1.88, lightFrom: 99,
	colTree: colTreeE, rowTree: rowTreeE, legend: heatELegend,
	barX: 328.7, barY: [815, 874.3], legZero: 845, legendPx: 15.7, annoX: 349.7
});
heatmap({
	id: "barF", rows: heatF, xr: [473, 705.7], top: 820, limit: 1.32, lightFrom: 3,
	colTree: colTreeF, rowTree: rowTreeF, legend: heatFLegend,
	barX: 723.3, barY: [814, 873.3], legZero: 844, legendPx: 23.7, annoX: 743.3
});

// panel letters
[["A", 2, 32], ["B", 390.7, 32], ["C", 1.5, 460], ["D", 388, 460], ["E", 2, 816], ["F", 391, 816]].forEach(d => {
	svg.append("text").attr("class", "letter").attr("x", d[1]).attr("y", d[2]).style("fill", "#111").text(d[0]);
});
</script>
</body>
</html>
